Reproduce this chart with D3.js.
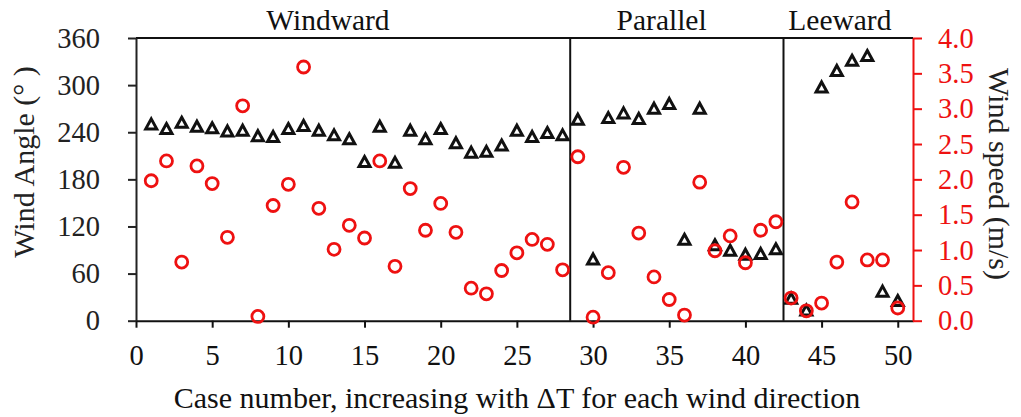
<!DOCTYPE html>
<html>
<head>
<meta charset="utf-8">
<script src="https://cdn.jsdelivr.net/npm/d3@7"></script>
<style>
  body { margin: 0; background: #fff; }
  svg text { font-family: "Times New Roman", "Liberation Serif", "DejaVu Serif", serif !important; }
</style>
</head>
<body>
<script>
// case numbers 1..50
const caseNo = [1,2,3,4,5,6,7,8,9,10,11,12,13,14,15,16,17,18,19,20,21,22,23,24,25,
  26,27,28,29,30,31,32,33,34,35,36,37,38,39,40,41,42,43,44,45,46,47,48,49,50];

// wind angle (deg), black triangles
const windAngle = [250,244,252,247,245,241,242,235,234,244,248,242,236,231,202,247,201,242,231,244,
  226,214,215,223,242,234,239,236,256,78,258,264,257,270,276,103,270,96,89,84,
  85,91,28,13,297,318,331,337,37,25];

// wind speed (m/s), red circles
const windSpeed = [1.98,2.26,0.83,2.19,1.94,1.18,3.04,0.06,1.63,1.93,3.59,1.59,1.01,1.35,1.17,2.26,0.77,1.87,1.28,1.66,
  1.25,0.46,0.38,0.71,0.96,1.15,1.08,0.72,2.32,0.05,0.68,2.17,1.24,0.62,0.30,0.08,1.96,0.99,1.20,0.82,
  1.28,1.40,0.32,0.14,0.25,0.83,1.68,0.86,0.86,0.18];

const xTicks = [0,5,10,15,20,25,30,35,40,45,50];
const angleTicks = [0,60,120,180,240,300,360];
const speedTicks = [0,0.5,1,1.5,2,2.5,3,3.5,4];

const sectionNames = ["Windward", "Parallel", "Leeward"];
const sectionLabelX = [12.6, 34.5, 46.2];
const dividers = [28.5, 42.5];

const W = 1021, H = 417;
const margin = { top: 38, right: 108, bottom: 96, left: 136 };
const red = "#ee1111";
const serif = "'Times New Roman', 'Liberation Serif', 'DejaVu Serif', serif";

const svg = d3.select("body").append("svg").attr("width", W).attr("height", H)
  .attr("font-family", serif);

const x = d3.scaleLinear().domain([0, 51]).range([margin.left, W - margin.right]);
const yA = d3.scaleLinear().domain([0, 360]).range([H - margin.bottom - 0.3, margin.top]);
const yS = d3.scaleLinear().domain([0, 4]).range([H - margin.bottom - 0.3, margin.top]);

const x0 = x.range()[0], x1 = x.range()[1];
const yBot = yA.range()[0], yTop = yA.range()[1];

// top border
svg.append("line")
  .attr("x1", x0).attr("x2", x1).attr("y1", yTop).attr("y2", yTop)
  .attr("stroke", "#111").attr("stroke-width", 2);

// section dividers
svg.selectAll(".divider")
  .data(dividers)
  .enter()
  .append("line")
  .attr("class", "divider")
  .attr("x1", d => x(d)).attr("x2", d => x(d))
  .attr("y1", yTop).attr("y2", yBot)
  .attr("stroke", "#111").attr("stroke-width", 2);

// section labels
svg.selectAll(".section")
  .data(sectionNames)
  .enter()
  .append("text")
  .attr("class", "section")
  .attr("x", (d, i) => x(sectionLabelX[i]))
  .attr("y", 30)
  .attr("text-anchor", "middle")
  .attr("font-size", 29.5)
  .attr("fill", "#111")
  .text(d => d);

// axes
const styleAxis = (g, color) => {
  g.attr("font-family", serif);
  g.selectAll("path").attr("stroke", color).attr("stroke-width", 2);
  g.selectAll("line").attr("stroke", color).attr("stroke-width", 2);
  g.selectAll("text").attr("fill", color).attr("font-size", 28.5).attr("font-family", serif);
};

svg.append("g")
  .attr("transform", "translate(0," + yBot + ")")
  .call(d3.axisBottom(x).tickValues(xTicks).tickSize(7).tickPadding(17).tickSizeOuter(0))
  .call(g => styleAxis(g, "#111"));

svg.append("g")
  .attr("transform", "translate(" + x0 + ",0)")
  .call(d3.axisLeft(yA).tickValues(angleTicks).tickSize(8).tickPadding(28).tickSizeOuter(0))
  .call(g => styleAxis(g, "#222"));

svg.append("g")
  .attr("transform", "translate(" + x1 + ",0)")
  .call(d3.axisRight(yS).tickValues(speedTicks).tickFormat(d3.format(".1f")).tickSize(9).tickPadding(16).tickSizeOuter(0))
  .call(g => styleAxis(g, red));

// axis titles
svg.append("text")
  .attr("transform", "translate(34,162) rotate(-90)")
  .attr("text-anchor", "middle")
  .attr("font-size", 30)
  .attr("fill", "#222")
  .text("Wind Angle (° )");

svg.append("text")
  .attr("transform", "translate(989,174) rotate(90)")
  .attr("text-anchor", "middle")
  .attr("font-size", 30)
  .attr("fill", "#222")
  .text("Wind speed (m/s)");

svg.append("text")
  .attr("x", 517).attr("y", 408)
  .attr("text-anchor", "middle")
  .attr("font-size", 30)
  .attr("fill", "#111")
  .text("Case number, increasing with ΔT for each wind direction");

// triangles: wind angle
svg.selectAll(".tri")
  .data(caseNo)
  .enter()
  .append("path")
  .attr("class", "tri")
  .attr("d", "M0,-5.5L5.5,4.5L-5.5,4.5Z")
  .attr("transform", (d, i) => "translate(" + x(d) + "," + yA(windAngle[i]) + ")")
  .attr("fill", "none")
  .attr("stroke", "#111")
  .attr("stroke-width", 3);

// circles: wind speed
svg.selectAll(".dot")
  .data(caseNo)
  .enter()
  .append("circle")
  .attr("class", "dot")
  .attr("cx", d => x(d))
  .attr("cy", (d, i) => yS(windSpeed[i]))
  .attr("r", 6)
  .attr("fill", "none")
  .attr("stroke", red)
  .attr("stroke-width", 2.8);
</script>
</body>
</html>
